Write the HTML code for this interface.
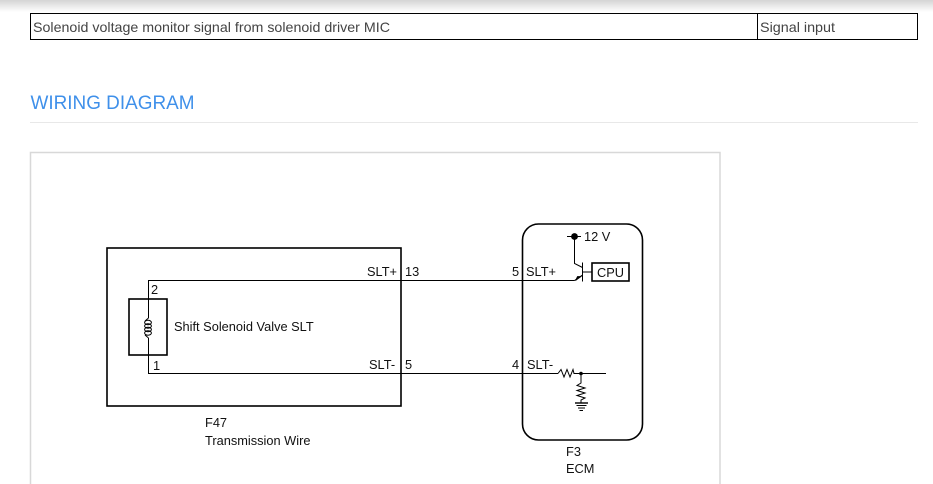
<!DOCTYPE html>
<html><head><meta charset="utf-8"><style>
html,body{margin:0;padding:0;background:#fff;width:933px;height:484px;overflow:hidden}
svg{position:absolute;left:0;top:0}
text{font-family:"Liberation Sans",sans-serif}
</style></head><body>
<svg width="933" height="484" viewBox="0 0 933 484" xmlns="http://www.w3.org/2000/svg">
<defs><linearGradient id="g" x1="0" y1="0" x2="0" y2="1"><stop offset="0" stop-color="#d4d4d4"/><stop offset="1" stop-color="#fff"/></linearGradient></defs>
<rect x="0" y="0" width="933" height="12" fill="url(#g)"/>
<g fill="none" stroke="#000" stroke-width="1">
<rect x="30.5" y="13.5" width="887" height="26"/>
<line x1="757.5" y1="13" x2="757.5" y2="40"/>
</g>
<text x="33" y="32" font-size="14" fill="#444" textLength="357" lengthAdjust="spacingAndGlyphs">Solenoid voltage monitor signal from solenoid driver MIC</text>
<text x="760" y="32" font-size="14" fill="#444" textLength="75" lengthAdjust="spacingAndGlyphs">Signal input</text>
<text x="30.5" y="109" font-size="19" fill="#3f90ea" textLength="164" lengthAdjust="spacingAndGlyphs">WIRING DIAGRAM</text>
<line x1="30" y1="122.5" x2="918" y2="122.5" stroke="#e8e8e8"/>
<rect x="30.5" y="152.5" width="689.5" height="340" fill="#fff" stroke="#d8d8d8" stroke-width="1.5"/>
<g fill="none" stroke="#000">
<rect x="107" y="248" width="294" height="158" stroke-width="1.6"/>
<rect x="522.5" y="224" width="120" height="216" rx="16" stroke-width="1.6"/>
<rect x="129" y="299" width="38" height="56" stroke-width="1.6"/>
<path d="M148.5 318V280.5H574.5M148.5 338V373.5H558M573.5 373.5H606" stroke-width="1"/>
<path d="M148.5 318L145 321" stroke-width="1"/>
<path d="M148.5 338L145 335" stroke-width="1"/>
<ellipse cx="148" cy="322.5" rx="3.4" ry="2.2" stroke-width="1"/>
<ellipse cx="148" cy="326" rx="3.4" ry="2.2" stroke-width="1"/>
<ellipse cx="148" cy="329.5" rx="3.4" ry="2.2" stroke-width="1"/>
<ellipse cx="148" cy="333" rx="3.4" ry="2.2" stroke-width="1"/>
<path d="M567 236.5H581M574.5 236V263.5L582.5 267.5M582.5 275L574.5 280.5M582.5 262.5V281.5M582.5 272H592" stroke-width="1"/>
<rect x="592" y="263" width="37" height="18" stroke-width="1.6"/>
<path d="M558 373.5L561 369.5L564 377L567 369.5L570 377L573 369.5L574 373.5" stroke-width="1"/>
<path d="M581 373.5V383L577 385.5L585 388L577 390.5L585 393L577 395.5L585 398L581 400V403" stroke-width="1"/>
<path d="M575 403H588" stroke-width="1.4"/>
<path d="M576.5 405.5H586.5M578 408H585M579.5 410.5H583" stroke-width="1"/>
</g>
<circle cx="574.5" cy="236.5" r="3.4" fill="#000"/>
<circle cx="581" cy="373.5" r="1.8" fill="#000"/>
<path d="M581 276.5L575.5 280.5L577.5 276.5Z" fill="#000" stroke="#000" stroke-width="0.8"/>
<g font-size="12.8" fill="#111">
<text x="174" y="331">Shift Solenoid Valve SLT</text>
<text x="151" y="294">2</text>
<text x="153" y="370">1</text>
<text x="367" y="276">SLT+</text>
<text x="405" y="276">13</text>
<text x="369" y="369">SLT-</text>
<text x="405" y="369">5</text>
<text x="512" y="276">5</text>
<text x="526" y="276">SLT+</text>
<text x="512" y="369">4</text>
<text x="527" y="369">SLT-</text>
<text x="584" y="241">12 V</text>
<text x="597" y="277">CPU</text>
<text x="205" y="427">F47</text>
<text x="205" y="445">Transmission Wire</text>
<text x="566" y="456">F3</text>
<text x="566" y="473">ECM</text>
</g>
</svg>
</body></html>
